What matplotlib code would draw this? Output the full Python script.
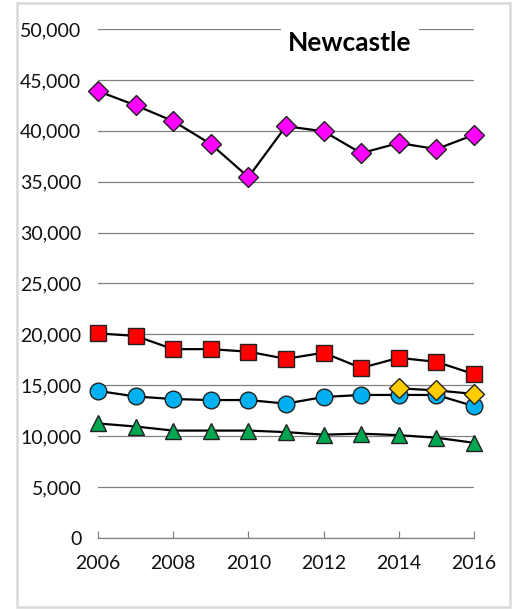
import matplotlib.pyplot as plt
from matplotlib.patches import Rectangle
from matplotlib.ticker import FuncFormatter

years = list(range(2006, 2017))

# series values read per year
magenta = [43900, 42500, 40950, 38700, 35450, 40450, 39950, 37800, 38800, 38200, 39600]
red = [20100, 19850, 18550, 18550, 18300, 17600, 18200, 16700, 17700, 17300, 16100]
blue = [14450, 13900, 13650, 13550, 13550, 13200, 13850, 14050, 14050, 14050, 12950]
green = [11250, 10950, 10550, 10550, 10550, 10400, 10150, 10250, 10100, 9850, 9350]
yellow_years = [2014, 2015, 2016]
yellow = [14700, 14500, 14150]

plt.rcParams['font.family'] = ['Lato', 'DejaVu Sans']

fig = plt.figure(figsize=(5.22, 6.09), dpi=100)
ax = fig.add_axes([0.1877, 0.1166, 0.7203, 0.8358])

# outer frame of the chart
fig.patches.append(Rectangle((17 / 522, 2 / 609), 493 / 522, 604 / 609,
                             transform=fig.transFigure, fill=False,
                             edgecolor='#d9d9d9', linewidth=1.8))

line_kw = dict(color='black', linewidth=1.6, markeredgecolor='#222222',
               markeredgewidth=1.0, clip_on=False)
ax.plot(years, magenta, marker='D', markersize=10, markerfacecolor='#ff00ff', zorder=3, **line_kw)
ax.plot(years, red, marker='s', markersize=11, markerfacecolor='#ff0000', zorder=3, **line_kw)
ax.plot(years, green, marker='^', markersize=12, markerfacecolor='#00a650', zorder=3, **line_kw)
ax.plot(years, blue, marker='o', markersize=12, markerfacecolor='#00b0f0', zorder=4, **line_kw)
ax.plot(yellow_years, yellow, marker='D', markersize=10, markerfacecolor='#ffcc00', zorder=5, **line_kw)

ax.set_xlim(2006, 2016)
ax.set_ylim(0, 50000)
ax.set_xticks(range(2006, 2017, 2))
ax.set_yticks(range(0, 50001, 5000))
ax.yaxis.set_major_formatter(FuncFormatter(lambda v, p: f'{int(v):,}'))

ax.grid(axis='y', color='#808080', linewidth=0.9)
ax.set_axisbelow(True)
for side in ['top', 'right', 'left']:
    ax.spines[side].set_visible(False)
ax.spines['bottom'].set_color('#808080')
ax.spines['bottom'].set_linewidth(0.9)

ax.tick_params(axis='x', direction='in', length=5, width=0.9, color='#808080',
               pad=12, labelsize=14, labelcolor='#111111')
ax.tick_params(axis='y', length=0, pad=12, labelsize=14, labelcolor='#111111')

ax.text(0.67, 0.9725, 'Newcastle', transform=ax.transAxes, ha='center', va='center',
        fontsize=19, fontweight='bold',
        bbox=dict(facecolor='white', edgecolor='none', pad=5))

fig.savefig('out.png', dpi=100)
